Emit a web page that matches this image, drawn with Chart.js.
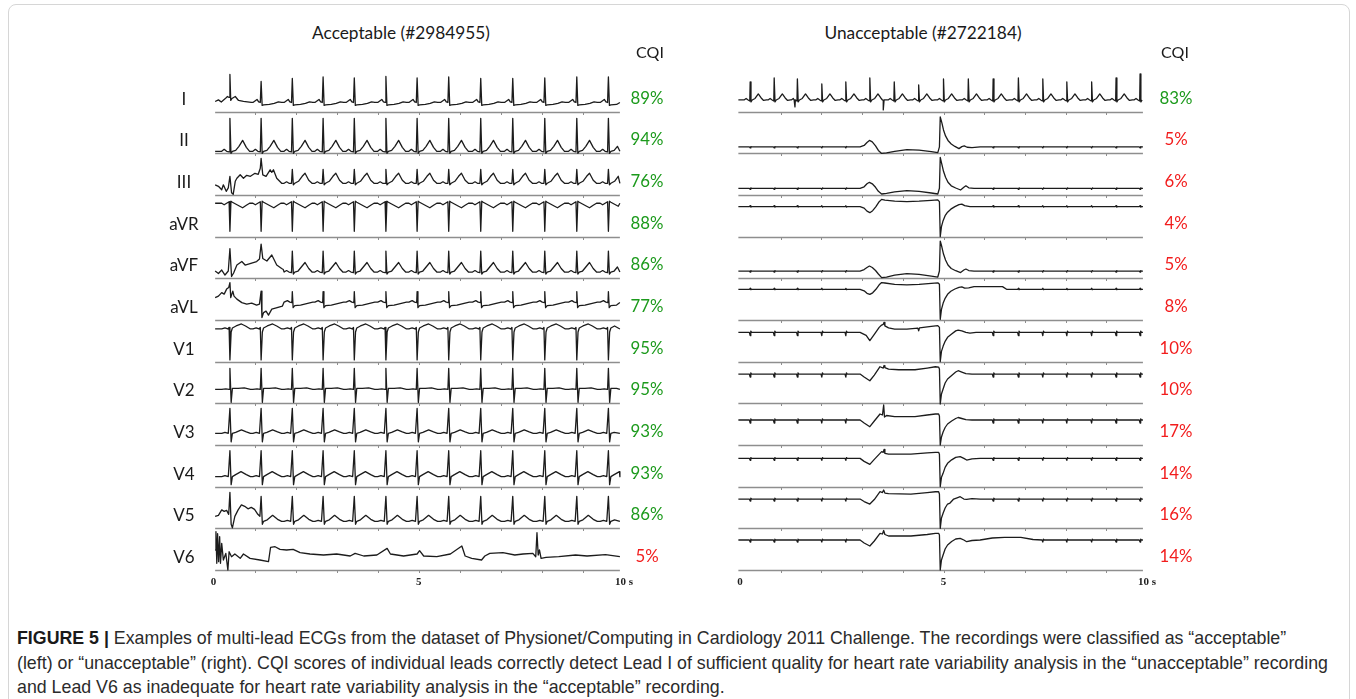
<!DOCTYPE html>
<html>
<head>
<meta charset="utf-8">
<title>Multi-lead ECG quality (CQI)</title>
<script src="https://cdn.jsdelivr.net/npm/chart.js@4.4.1/dist/chart.umd.min.js"></script>
<style>
  html, body { margin: 0; padding: 0; background: #fff; }
  body { width: 1356px; height: 699px; position: relative; overflow: hidden; font-family: Lato, "Open Sans", sans-serif; }
  .frame { position: absolute; left: 8px; top: 4px; width: 1340px; height: 760px; border: 1px solid #d6d6d6; border-radius: 8px; }
  canvas { position: absolute; }
  .lbl { position: absolute; white-space: nowrap; transform: translate(-50%, -50%); color: #1a1a1a; line-height: 1; }
  .cap { position: absolute; left: 17px; white-space: nowrap; transform-origin: 0 50%; color: #2b2b2b;
         font-family: "Liberation Sans Narrow", "Arial Narrow", "Liberation Sans", Arial, sans-serif; font-size: 19px; line-height: 20px; }
  .cap b { font-weight: bold; color: #1a1a1a; }
</style>
</head>
<body>
<div class="frame"></div>
<canvas id="leftPanel"></canvas>
<canvas id="rightPanel"></canvas>
<div id="texts"></div>
<div class="cap" id="cap1" style="top:628px"><b>FIGURE 5 |</b> Examples of multi-lead ECGs from the dataset of Physionet/Computing in Cardiology 2011 Challenge. The recordings were classified as “acceptable”</div>
<div class="cap" id="cap2" style="top:653px">(left) or “unacceptable” (right). CQI scores of individual leads correctly detect Lead I of sufficient quality for heart rate variability analysis in the “unacceptable” recording</div>
<div class="cap" id="cap3" style="top:677px">and Lead V6 as inadequate for heart rate variability analysis in the “acceptable” recording.</div>
<script>
// ---------------------------------------------------------------
// Data
// ---------------------------------------------------------------
const leadNames = ['I', 'II', 'III', 'aVR', 'aVF', 'aVL', 'V1', 'V2', 'V3', 'V4', 'V5', 'V6'];
const leftTitle = 'Acceptable (#2984955)';
const rightTitle = 'Unacceptable (#2722184)';
const cqiHeader = 'CQI';
const leftCQI = [89, 94, 76, 88, 86, 77, 95, 95, 93, 93, 86, 5];
const rightCQI = [83, 5, 6, 4, 5, 8, 10, 10, 17, 14, 16, 14];
const cqiThreshold = 50;           // below: inadequate for HRV analysis
const timeTicks = [0, 5, 10];
const timeTickLabels = ['0', '5', '10 s'];

// Recording window shown for each panel (s)
const leftSpan = [0.04, 9.9];
const rightSpan = [-0.04, 9.9];

// R-peak times (s)
const leftBeatTimes = [0.40, 1.16, 1.92, 2.67, 3.43, 4.20, 4.96, 5.73, 6.51, 7.29, 8.07, 8.85, 9.62];
const rightBeatTimes = [0.25, 0.84, 1.41, 2.01, 2.60, 3.19, 3.79, 4.39, 5.00, 5.61, 6.22, 6.84, 7.44, 8.03, 8.64, 9.24, 9.83];

// Typical beat of each lead, acceptable record: [offset from R peak (s), amplitude (mm)]
const leftShapeI   = [[-0.2,0],[-0.15,1.5],[-0.1,3],[-0.06,0.5],[-0.02,0],[0,24],[0.025,-3],[0.06,-2.5],[0.2,-2],[0.32,-1],[0.42,0.5],[0.5,0]];
const leftShapeII  = [[-0.2,0],[-0.14,2],[-0.08,0],[-0.02,-0.5],[0,33],[0.025,-2],[0.06,0],[0.14,1],[0.22,5],[0.31,11],[0.4,4],[0.48,0]];
const leftShapeIII = [[-0.2,0],[-0.14,1.5],[-0.08,0],[-0.02,0],[0,14],[0.025,-1.5],[0.06,0],[0.15,2],[0.24,7],[0.31,10],[0.4,3],[0.48,0]];
const leftShapeaVR = [[-0.2,0],[-0.14,-1.5],[-0.08,0],[-0.02,1.5],[0,-28],[0.025,2],[0.06,1],[0.15,-1],[0.24,-3],[0.31,-4.5],[0.4,-2],[0.48,0]];
const leftShapeaVF = [[-0.2,0],[-0.14,1.5],[-0.08,0],[-0.02,-0.5],[0,21],[0.025,-2],[0.06,0],[0.14,1],[0.22,5],[0.31,9.5],[0.4,3.5],[0.48,0]];
const leftShapeaVL = [[-0.2,0.5],[-0.12,2],[-0.06,0.5],[-0.01,0],[0,11],[0.02,-5],[0.06,-3],[0.2,-2.5],[0.35,-1],[0.5,0.5]];
const leftShapeV1  = [[-0.2,0],[-0.12,1],[-0.05,0],[-0.02,1.5],[0,-31],[0.03,-3],[0.06,1],[0.15,3],[0.28,5],[0.38,3],[0.5,0]];
const leftShapeV2  = [[-0.2,0],[-0.1,0.5],[-0.02,0],[0,21],[0.03,-13],[0.06,1],[0.2,1],[0.35,1.5],[0.5,0]];
const leftShapeV3  = [[-0.2,0],[-0.12,1],[-0.04,0],[0,25],[0.03,-8.5],[0.06,0],[0.14,1],[0.28,3.5],[0.4,1.5],[0.5,0]];
const leftShapeV4  = [[-0.2,0],[-0.12,1],[-0.04,0],[0,26],[0.03,-8],[0.06,0],[0.14,2],[0.27,5],[0.4,2],[0.5,0]];
const leftShapeV5  = [[-0.2,0],[-0.12,1],[-0.04,0],[0,25],[0.03,-3],[0.06,0],[0.15,1.5],[0.28,6],[0.4,2],[0.5,0]];

// Beat-by-beat R amplitudes (mm), lead I
const leftRAmpI = [28, 21, 24, 25.5, 24.5, 26, 24.5, 25.5, 24, 24, 24.5, 25.5, 25.5];

// Noisy opening seconds: [time (s), amplitude (mm)]
const leftOnsetI   = [[0.04,1],[0.12,2.6],[0.19,0.5],[0.28,3.6],[0.34,6],[0.38,5],[0.40,28],[0.42,2],[0.45,4],[0.53,6],[0.61,2],[0.73,1],[0.92,0]];
const leftOnsetIII = [[0.04,-1.5],[0.12,-3],[0.2,-6.5],[0.24,-1.5],[0.31,-8],[0.36,-4.5],[0.40,7],[0.44,-9.5],[0.48,-11],[0.53,2],[0.57,5],[0.65,8.5],[0.73,5],[0.81,8],[0.9,7],[1.01,10],[1.09,9],[1.14,15],[1.16,25],[1.2,8.5],[1.28,7],[1.38,13.5],[1.42,11],[1.46,13.5],[1.54,5],[1.66,0],[1.7,0]];
const leftOnsetaVF = [[0.04,1],[0.12,-1.5],[0.2,2],[0.28,-3],[0.36,1],[0.40,23.5],[0.44,-4.5],[0.49,-1],[0.57,7],[0.69,10.5],[0.77,7],[0.89,8.5],[1.05,10.5],[1.12,13],[1.16,28],[1.2,13.5],[1.3,11],[1.42,17],[1.54,7],[1.66,3.5],[1.7,2.5]];
const leftOnsetaVL = [[0.04,5],[0.12,6.5],[0.2,10],[0.26,8.5],[0.32,13.5],[0.37,15],[0.40,20],[0.42,5],[0.47,11.5],[0.5,6.5],[0.57,3.5],[0.69,0],[0.81,-1.5],[0.93,-0.5],[1.05,-2.5],[1.12,-1.5],[1.16,11.5],[1.18,-15],[1.22,-10],[1.28,-8.5],[1.34,-12.5],[1.42,-6.5],[1.55,-5],[1.68,-3.5]];
const leftOnsetV5  = [[0.04,5],[0.12,6],[0.2,11.5],[0.26,10],[0.32,11],[0.37,7],[0.40,29],[0.43,-3],[0.46,-6.5],[0.52,5],[0.6,11.5],[0.68,16.5],[0.76,15],[0.84,12.5],[0.92,14],[1.0,12],[1.08,7],[1.13,5]];

// Lead V6 of the acceptable record (noise, baseline shift, artefact spike)
const leftV6 = [[0.04,6.7],[0.06,25],[0.08,-6.6],[0.10,23],[0.125,-5],[0.15,20],[0.17,-6.6],[0.2,13.3],[0.24,-3.3],[0.3,3.3],[0.35,-13.3],[0.38,5],[0.44,0],[0.52,2.7],[0.65,-1.6],[0.73,2.7],[0.89,-1.7],[1.13,-3.3],[1.34,-5],[1.39,9.4],[1.5,10],[1.62,7.3],[1.78,6.7],[1.94,7.3],[2.11,4],[2.35,2.7],[2.68,1.7],[3.0,2.7],[3.33,0.7],[3.45,3.3],[3.66,0.7],[3.98,1.7],[4.23,8.3],[4.31,2.7],[4.63,0.7],[4.96,2.7],[5.02,6],[5.12,0.7],[5.44,0],[5.77,2.7],[6.05,10.7],[6.13,0.7],[6.29,-1.7],[6.53,-3.3],[6.61,0.7],[6.73,3.3],[7.05,4],[7.34,1.7],[7.54,2.7],[7.78,3.3],[7.85,0],[7.88,24],[7.91,1.7],[7.94,6.7],[7.98,-1.6],[8.1,-0.7],[8.41,0],[8.82,1.7],[9.1,0.7],[9.55,2],[9.9,0]];

// Unacceptable record, lead I: typical beat, R amplitudes and isolated deflections
const rightShapeI = [[-0.15,0],[-0.1,1.5],[-0.05,0],[-0.01,-1],[0,19],[0.02,-2],[0.05,0],[0.12,1.5],[0.2,6],[0.27,2],[0.33,-0.5],[0.4,0]];
const rightRAmpI = [18, 22, 21, 16, 18, 22, 18, 15, 21, 21, 21, 22, 21, 18, 18, 22, 26];
const rightExtraI = [[1.33,0],[1.35,-7],[1.37,0],[3.5,0],[3.52,-10],[3.54,0]];

// Unacceptable record, other leads: motion artefact [time (s), amplitude (mm)]
const rightEventII  = [[2.95,0],[3.05,1.5],[3.12,4.5],[3.18,6.5],[3.25,5],[3.33,1],[3.4,-3.5],[3.48,-6.5],[3.6,-6],[3.8,-4.5],[4.1,-2.7],[4.4,-3.2],[4.7,-4.7],[4.86,-5.7],[4.9,0],[4.92,30],[4.96,24],[5.0,17],[5.05,11],[5.11,6.5],[5.19,3],[5.28,0.5],[5.38,-1.7],[5.45,0.3],[5.51,1],[5.58,-0.3],[5.7,-0.7],[5.9,0]];
const rightEventIII = [[2.95,0],[3.05,1.5],[3.12,4.5],[3.18,6],[3.25,4.5],[3.33,1],[3.4,-3],[3.48,-5.7],[3.6,-5],[3.8,-3.5],[4.1,-2.3],[4.4,-3],[4.7,-4.7],[4.86,-5.7],[4.9,0],[4.92,31],[4.96,24],[5.0,17],[5.05,11],[5.11,6],[5.19,2.5],[5.3,0.3],[5.42,-1.7],[5.5,1],[5.55,2.5],[5.62,0.5],[5.75,0]];
const rightEventaVR = [[2.95,0],[3.05,-1.5],[3.12,-4.5],[3.19,-6],[3.26,-4],[3.34,0],[3.42,5],[3.48,7.3],[3.56,6.5],[3.8,5.5],[4.1,5],[4.4,5.5],[4.7,6.3],[4.86,6.7],[4.9,5],[4.92,-30],[4.95,-20],[4.99,-14],[5.04,-9],[5.1,-5.5],[5.18,-2.5],[5.28,0],[5.38,2],[5.45,2.5],[5.52,1],[5.65,0]];
const rightEventaVF = [[2.95,0],[3.05,1.5],[3.12,3.5],[3.18,5],[3.25,3.5],[3.33,0.5],[3.4,-3],[3.48,-6.6],[3.6,-6],[3.8,-4],[4.1,-2.6],[4.4,-3.3],[4.7,-5],[4.86,-6],[4.9,0],[4.92,30],[4.96,24],[5.0,17],[5.05,11],[5.11,6],[5.19,2.5],[5.3,0.3],[5.42,-1.5],[5.5,1],[5.55,2],[5.62,0.5],[5.75,0]];
const rightEventaVL = [[2.95,0],[3.05,-1.5],[3.12,-4],[3.19,-5],[3.26,-3.5],[3.34,0],[3.42,4.5],[3.48,6.7],[3.56,6.3],[3.8,5],[4.1,4.5],[4.4,5],[4.7,6],[4.86,6.5],[4.9,5],[4.92,-30],[4.95,-20],[4.99,-14],[5.04,-9],[5.1,-5],[5.18,-2],[5.28,0.3],[5.38,2],[5.45,2.5],[5.52,1.2],[5.62,1.5],[5.75,2.7],[6.45,2.7],[6.55,0]];
const rightEventV1  = [[2.95,0],[3.1,-3],[3.19,-8.3],[3.3,-2],[3.42,5],[3.48,7.3],[3.52,8],[3.54,10],[3.56,6.5],[3.65,4.5],[3.8,3.3],[4.1,3.3],[4.37,4.3],[4.39,1.5],[4.41,4.5],[4.7,6],[4.86,6.7],[4.9,5],[4.92,-29.3],[4.95,-19],[4.99,-14],[5.04,-9],[5.1,-5],[5.2,-1.7],[5.3,1.5],[5.36,2.3],[5.45,1.5],[5.55,0],[5.65,-0.7],[5.8,0]];
const rightEventV2  = [[2.95,0],[3.05,-3],[3.19,-6.7],[3.3,-1],[3.44,7.3],[3.52,6],[3.54,8.5],[3.56,6.5],[3.65,5],[3.9,4.3],[4.3,4.3],[4.6,6],[4.8,7.3],[4.88,7],[4.9,5],[4.92,-30],[4.95,-20],[4.99,-15],[5.04,-9],[5.1,-5],[5.2,-1.5],[5.3,2],[5.36,3.3],[5.45,2],[5.55,0.5],[5.7,0]];
const rightEventV3  = [[2.95,0],[3.05,-3],[3.19,-6.7],[3.3,-1],[3.44,6],[3.5,5],[3.53,15],[3.55,3],[3.6,4.5],[3.8,3.3],[4.3,3.3],[4.6,5],[4.8,6],[4.88,6],[4.9,4],[4.92,-25],[4.95,-17],[4.99,-12],[5.04,-7.5],[5.1,-4],[5.2,-1],[5.3,1.5],[5.36,2.5],[5.45,1.5],[5.55,0.3],[5.7,0]];
const rightEventV4  = [[2.95,0],[3.05,-3],[3.19,-6],[3.3,-1],[3.48,6.7],[3.52,6],[3.54,9],[3.56,5],[3.65,4.3],[4.2,4.3],[4.6,5.5],[4.8,6],[4.88,6],[4.9,4],[4.92,-28.3],[4.95,-19],[4.99,-15],[5.04,-9],[5.1,-5],[5.2,-1.5],[5.3,1],[5.41,1.7],[5.5,0],[5.57,-1.7],[5.7,-0.5],[5.9,0]];
const rightEventV5  = [[2.95,0],[3.05,-2.5],[3.19,-5],[3.3,-0.5],[3.44,7.3],[3.5,6.5],[3.53,9],[3.56,6],[3.65,5.5],[4.2,5],[4.6,6.5],[4.8,7.3],[4.88,7.3],[4.9,5],[4.92,-29.3],[4.95,-19],[4.99,-14.3],[5.04,-9],[5.1,-5],[5.16,-4],[5.25,0],[5.35,1.5],[5.41,2.3],[5.5,0],[5.57,-0.3],[5.7,0.5],[5.9,0]];
const rightEventV6  = [[2.95,0],[3.05,-3],[3.19,-6],[3.3,-1],[3.44,6.7],[3.5,6],[3.53,9.5],[3.56,5.5],[3.65,4],[4.2,4],[4.6,5.5],[4.8,6.7],[4.88,6.7],[4.9,5],[4.92,-30],[4.95,-20],[4.99,-15],[5.04,-9],[5.1,-5],[5.2,-1.5],[5.3,1],[5.41,1.7],[5.5,0],[5.57,-1.7],[5.7,-0.5],[5.9,0],[6.2,2],[6.5,2.7],[6.9,2.7],[7.2,0.5]];

// Residual QRS blip on the artefact-dominated leads (mm, positive = downward)
const rightBlipSize = [0, 1, 1, -1, 1, -1, 3.3, 3, 3, 2, 2, 2];
const blipShape = [[-0.02, 0], [0, -1], [0.015, 0.4], [0.035, 0]];

// ---------------------------------------------------------------
// Layout
// ---------------------------------------------------------------
const ROWS = 12;
const AREA = { top: 70, bottom: 570 };
const ROW_PX = (AREA.bottom - AREA.top) / ROWS;
const LEFT_BOX = { canvasX: 140, canvasW: 560, x0: 213.5, x10: 624 };
const RIGHT_BOX = { canvasX: 690, canvasW: 530, x0: 740, x10: 1147 };
const CANVAS_TOP = 56, CANVAS_H = 544;
// baseline height of each trace above its row rule (px)
const LEFT_BASE = [9.2, 2, 11.7, 33.4, 6.3, 17.4, 32.7, 14, 11.7, 10, 7, 13.3];
const RIGHT_BASE = [11.7, 6.4, 6.7, 30, 7.3, 30.7, 29.3, 29.3, 25, 28.3, 29.3, 30];
const GREEN = '#1c9a1c', RED = '#f21d1d';
const TRACE = '#1c1c1c', RULE = '#8e8e8e';

// ---------------------------------------------------------------
// Trace assembly
// ---------------------------------------------------------------
function beatTrace(times, shape, span, rAmp, onset) {
  const pts = onset ? onset.slice() : [[span[0], 0]];
  const cut = onset ? onset[onset.length - 1][0] + 0.005 : span[0];
  times.forEach((tr, k) => {
    for (const [dt, v] of shape) {
      const t = +(tr + dt).toFixed(3);
      if (t <= cut || t >= span[1]) continue;
      pts.push([t, dt === 0 && rAmp ? rAmp[k] : v]);
    }
  });
  pts.push([span[1], 0]);
  return pts.sort((a, b) => a[0] - b[0]);
}

function eventTrace(event, blip) {
  const t0 = event[0][0], t1 = event[event.length - 1][0];
  const pts = [[rightSpan[0], 0]];
  rightBeatTimes.forEach(tb => {
    if (tb > t0 - 0.05 && tb < t1 + 0.05) return;
    for (const [dt, f] of blipShape) pts.push([+(tb + dt).toFixed(3), f * blip]);
  });
  return pts.concat(event, [[rightSpan[1], 0]]).sort((a, b) => a[0] - b[0]);
}

const leftTraces = [
  beatTrace(leftBeatTimes, leftShapeI, leftSpan, leftRAmpI, leftOnsetI),
  beatTrace(leftBeatTimes, leftShapeII, leftSpan),
  beatTrace(leftBeatTimes, leftShapeIII, leftSpan, null, leftOnsetIII),
  beatTrace(leftBeatTimes, leftShapeaVR, leftSpan),
  beatTrace(leftBeatTimes, leftShapeaVF, leftSpan, null, leftOnsetaVF),
  beatTrace(leftBeatTimes, leftShapeaVL, leftSpan, null, leftOnsetaVL),
  beatTrace(leftBeatTimes, leftShapeV1, leftSpan),
  beatTrace(leftBeatTimes, leftShapeV2, leftSpan),
  beatTrace(leftBeatTimes, leftShapeV3, leftSpan),
  beatTrace(leftBeatTimes, leftShapeV4, leftSpan),
  beatTrace(leftBeatTimes, leftShapeV5, leftSpan, null, leftOnsetV5),
  leftV6
];

const rightTraces = [
  beatTrace(rightBeatTimes, rightShapeI, rightSpan, rightRAmpI).concat(rightExtraI).sort((a, b) => a[0] - b[0]),
  eventTrace(rightEventII, rightBlipSize[1]),
  eventTrace(rightEventIII, rightBlipSize[2]),
  eventTrace(rightEventaVR, rightBlipSize[3]),
  eventTrace(rightEventaVF, rightBlipSize[4]),
  eventTrace(rightEventaVL, rightBlipSize[5]),
  eventTrace(rightEventV1, rightBlipSize[6]),
  eventTrace(rightEventV2, rightBlipSize[7]),
  eventTrace(rightEventV3, rightBlipSize[8]),
  eventTrace(rightEventV4, rightBlipSize[9]),
  eventTrace(rightEventV5, rightBlipSize[10]),
  eventTrace(rightEventV6, rightBlipSize[11])
];

// row i sits between y = ROWS-1-i (its rule) and ROWS-i
const rowY = (i, base, v) => (ROWS - 1 - i) + (base + v) / ROW_PX;

// Row rules with one-second marks, spanning the recorded window
const rowRules = {
  id: 'rowRules',
  beforeDatasetsDraw(chart, args, opts) {
    const { ctx, scales: { x, y } } = chart;
    const xa = x.getPixelForValue(opts.span[0]), xb = x.getPixelForValue(opts.span[1]);
    ctx.save();
    ctx.strokeStyle = RULE;
    for (let r = 0; r < ROWS; r++) {
      const py = Math.round(y.getPixelForValue(r)) + 0.5;
      ctx.lineWidth = 1.6;
      ctx.beginPath(); ctx.moveTo(xa, py); ctx.lineTo(xb, py); ctx.stroke();
      ctx.lineWidth = 1;
      for (let s = 1; s < 10; s++) {
        const px = Math.round(x.getPixelForValue(s)) + 0.5;
        ctx.beginPath(); ctx.moveTo(px, py); ctx.lineTo(px, py + 2.5); ctx.stroke();
      }
    }
    ctx.restore();
  }
};

function makePanel(id, box, traces, bases, span) {
  const cv = document.getElementById(id);
  cv.width = box.canvasW; cv.height = CANVAS_H;
  cv.style.left = box.canvasX + 'px'; cv.style.top = CANVAS_TOP + 'px';
  cv.style.width = box.canvasW + 'px'; cv.style.height = CANVAS_H + 'px';
  const datasets = traces.map((pts, i) => ({
    label: leadNames[i],
    data: pts.map(([t, v]) => ({ x: t, y: rowY(i, bases[i], v) })),
    borderColor: TRACE, borderWidth: 1.3, pointRadius: 0, tension: 0,
    borderJoinStyle: 'round', clip: false
  }));
  const target = {
    left: box.x0 - box.canvasX, right: box.x10 - box.canvasX,
    top: AREA.top - CANVAS_TOP, bottom: AREA.bottom - CANVAS_TOP
  };
  const chart = new Chart(cv, {
    type: 'line',
    data: { datasets },
    options: {
      responsive: false, animation: false, events: [],
      parsing: false, normalized: true, devicePixelRatio: 1,
      layout: { padding: { left: target.left, right: box.canvasW - target.right, top: target.top, bottom: 0 } },
      plugins: { legend: { display: false }, tooltip: { enabled: false }, title: { display: false }, rowRules: { span } },
      scales: {
        x: {
          type: 'linear', min: 0, max: 10,
          afterBuildTicks: s => { s.ticks = timeTicks.map(v => ({ value: v })); },
          grid: { display: false, drawTicks: false }, border: { display: false },
          ticks: {
            autoSkip: false, maxRotation: 0, padding: 6, color: '#222',
            font: { family: '"Liberation Serif", "DejaVu Serif", serif', size: 11, weight: 'bold' },
            callback: (v, idx) => timeTickLabels[idx]
          }
        },
        y: {
          type: 'linear', min: 0, max: ROWS,
          grid: { display: false, drawTicks: false }, border: { display: false },
          ticks: { display: false }
        }
      }
    },
    plugins: [rowRules]
  });
  // pin the plotting area to the intended box
  for (let k = 0; k < 4; k++) {
    const a = chart.chartArea, p = chart.options.layout.padding;
    const dl = target.left - a.left, dr = a.right - target.right;
    const dt = target.top - a.top, db = a.bottom - target.bottom;
    if (Math.abs(dl) + Math.abs(dr) + Math.abs(dt) + Math.abs(db) < 0.05) break;
    p.left += dl; p.right += dr; p.top += dt; p.bottom += db;
    chart.update();
  }
  return chart;
}

const leftChart = makePanel('leftPanel', LEFT_BOX, leftTraces, LEFT_BASE, leftSpan);
const rightChart = makePanel('rightPanel', RIGHT_BOX, rightTraces, RIGHT_BASE, rightSpan);

// ---------------------------------------------------------------
// Titles, lead names and CQI scores
// ---------------------------------------------------------------
const texts = document.getElementById('texts');
function put(str, x, y, size, color, weight) {
  const d = document.createElement('div');
  d.className = 'lbl';
  d.textContent = str;
  d.style.left = x + 'px'; d.style.top = y + 'px';
  d.style.fontSize = size + 'px';
  if (color) d.style.color = color;
  if (weight) d.style.fontWeight = weight;
  texts.appendChild(d);
}
const pageY = (chart, v) => CANVAS_TOP + chart.scales.y.getPixelForValue(v);
const labelOffset = 14 / ROW_PX;

put(leftTitle, 401, 33, 17.3);
put(rightTitle, 923, 33, 17.3);
put(cqiHeader, 650, 52, 16);
put(cqiHeader, 1175, 52, 16);
leadNames.forEach((name, i) => {
  const v = ROWS - 1 - i + labelOffset;
  put(name, 184, pageY(leftChart, v), 17);
  put(leftCQI[i] + '%', 647, pageY(leftChart, v), 16.8, leftCQI[i] >= cqiThreshold ? GREEN : RED);
  put(rightCQI[i] + '%', 1176, pageY(rightChart, v), 16.8, rightCQI[i] >= cqiThreshold ? GREEN : RED);
});

// Caption: one horizontal condensing factor for all lines, set by the longest line
(function () {
  const ids = ['cap1', 'cap2', 'cap3'];
  const longest = document.getElementById('cap2').getBoundingClientRect().width;
  const k = (1311 / longest).toFixed(4);
  ids.forEach(id => { document.getElementById(id).style.transform = 'scaleX(' + k + ')'; });
})();
</script>
</body>
</html>
